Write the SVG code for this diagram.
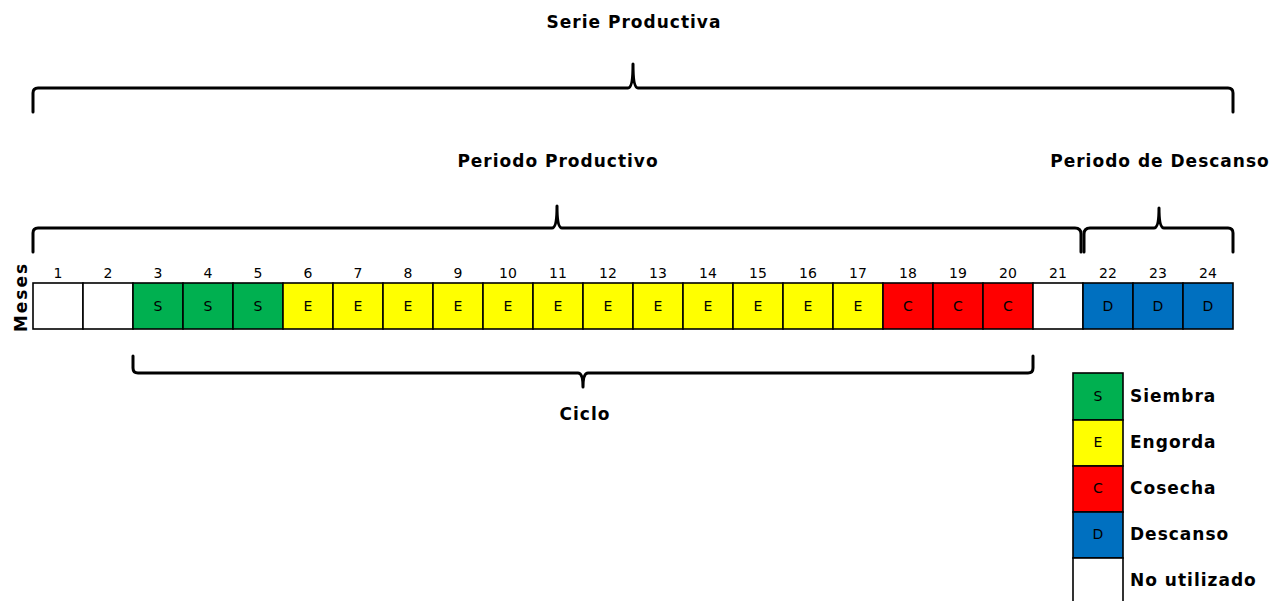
<svg xmlns="http://www.w3.org/2000/svg" width="1272" height="601" viewBox="0 0 1272 601">
<style>
.t{font-family:"DejaVu Sans","Liberation Sans",sans-serif;font-weight:bold;font-size:17px;letter-spacing:1px;fill:#000}
.n{font-family:"DejaVu Sans","Liberation Sans",sans-serif;font-size:14px;fill:#000;text-anchor:middle}
.c{stroke:#000;stroke-width:1.6}
.b{fill:none;stroke:#000;stroke-width:3;stroke-linejoin:round;stroke-linecap:round}
.S{fill:#00B050}.E{fill:#FFFF00}.C{fill:#FF0000}.D{fill:#0070C0}.W{fill:#FFFFFF}
</style>
<rect width="1272" height="601" fill="#fff"/>
<g id="braces">
<path class="b" d="M33,112 V93 Q33,88 38,88 H628 Q633,88 633,64 Q633,88 638,88 H1228 Q1233,88 1233,93 V112"/>
<path class="b" d="M33,252 V233 Q33,228 38,228 H552 Q557,228 557,206 Q557,228 562,228 H1075 Q1081,228 1081,234 V252"/>
<path class="b" d="M1084,252 V234 Q1084,228 1090,228 H1154 Q1159,228 1159,208 Q1159,228 1164,228 H1228 Q1233,228 1233,233 V252"/>
<path class="b" d="M133,356 V368 Q133,373 138,373 H578 Q583,373 583,387 Q583,373 588,373 H1028 Q1033,373 1033,368 V356"/>
</g>
<g id="labels">
<text class="t" x="634" y="28" text-anchor="middle">Serie Productiva</text>
<text class="t" x="558" y="167" text-anchor="middle">Periodo Productivo</text>
<text class="t" x="1160" y="167" text-anchor="middle">Periodo de Descanso</text>
<text class="t" x="585" y="420" text-anchor="middle">Ciclo</text>
<text class="t" transform="translate(27,297) rotate(-90)" text-anchor="middle" style="letter-spacing:2px">Meses</text>
</g>
<g id="months">
<text class="n" x="58" y="278">1</text><text class="n" x="108" y="278">2</text><text class="n" x="158" y="278">3</text><text class="n" x="208" y="278">4</text><text class="n" x="258" y="278">5</text><text class="n" x="308" y="278">6</text><text class="n" x="358" y="278">7</text><text class="n" x="408" y="278">8</text><text class="n" x="458" y="278">9</text><text class="n" x="508" y="278">10</text><text class="n" x="558" y="278">11</text><text class="n" x="608" y="278">12</text><text class="n" x="658" y="278">13</text><text class="n" x="708" y="278">14</text><text class="n" x="758" y="278">15</text><text class="n" x="808" y="278">16</text><text class="n" x="858" y="278">17</text><text class="n" x="908" y="278">18</text><text class="n" x="958" y="278">19</text><text class="n" x="1008" y="278">20</text><text class="n" x="1058" y="278">21</text><text class="n" x="1108" y="278">22</text><text class="n" x="1158" y="278">23</text><text class="n" x="1208" y="278">24</text>
</g>
<g id="cells">
<rect class="c W" x="33" y="283" width="50" height="46"/>
<rect class="c W" x="83" y="283" width="50" height="46"/>
<rect class="c S" x="133" y="283" width="50" height="46"/>
<rect class="c S" x="183" y="283" width="50" height="46"/>
<rect class="c S" x="233" y="283" width="50" height="46"/>
<rect class="c E" x="283" y="283" width="50" height="46"/>
<rect class="c E" x="333" y="283" width="50" height="46"/>
<rect class="c E" x="383" y="283" width="50" height="46"/>
<rect class="c E" x="433" y="283" width="50" height="46"/>
<rect class="c E" x="483" y="283" width="50" height="46"/>
<rect class="c E" x="533" y="283" width="50" height="46"/>
<rect class="c E" x="583" y="283" width="50" height="46"/>
<rect class="c E" x="633" y="283" width="50" height="46"/>
<rect class="c E" x="683" y="283" width="50" height="46"/>
<rect class="c E" x="733" y="283" width="50" height="46"/>
<rect class="c E" x="783" y="283" width="50" height="46"/>
<rect class="c E" x="833" y="283" width="50" height="46"/>
<rect class="c C" x="883" y="283" width="50" height="46"/>
<rect class="c C" x="933" y="283" width="50" height="46"/>
<rect class="c C" x="983" y="283" width="50" height="46"/>
<rect class="c W" x="1033" y="283" width="50" height="46"/>
<rect class="c D" x="1083" y="283" width="50" height="46"/>
<rect class="c D" x="1133" y="283" width="50" height="46"/>
<rect class="c D" x="1183" y="283" width="50" height="46"/>
<text class="n" x="158" y="311">S</text><text class="n" x="208" y="311">S</text><text class="n" x="258" y="311">S</text>
<text class="n" x="308" y="311">E</text><text class="n" x="358" y="311">E</text><text class="n" x="408" y="311">E</text><text class="n" x="458" y="311">E</text><text class="n" x="508" y="311">E</text><text class="n" x="558" y="311">E</text><text class="n" x="608" y="311">E</text><text class="n" x="658" y="311">E</text><text class="n" x="708" y="311">E</text><text class="n" x="758" y="311">E</text><text class="n" x="808" y="311">E</text><text class="n" x="858" y="311">E</text>
<text class="n" x="908" y="311">C</text><text class="n" x="958" y="311">C</text><text class="n" x="1008" y="311">C</text>
<text class="n" x="1108" y="311">D</text><text class="n" x="1158" y="311">D</text><text class="n" x="1208" y="311">D</text>
</g>
<g id="legend">
<rect class="c S" x="1073" y="373" width="50" height="47"/>
<rect class="c E" x="1073" y="420" width="50" height="46"/>
<rect class="c C" x="1073" y="466" width="50" height="46"/>
<rect class="c D" x="1073" y="512" width="50" height="46"/>
<rect class="c W" x="1073" y="558" width="50" height="50"/>
<text class="n" x="1098" y="401">S</text>
<text class="n" x="1098" y="447">E</text>
<text class="n" x="1098" y="493">C</text>
<text class="n" x="1098" y="539">D</text>
<text class="t" x="1130" y="402">Siembra</text>
<text class="t" x="1130" y="448">Engorda</text>
<text class="t" x="1130" y="494">Cosecha</text>
<text class="t" x="1130" y="540">Descanso</text>
<text class="t" x="1130" y="586">No utilizado</text>
</g>
</svg>
